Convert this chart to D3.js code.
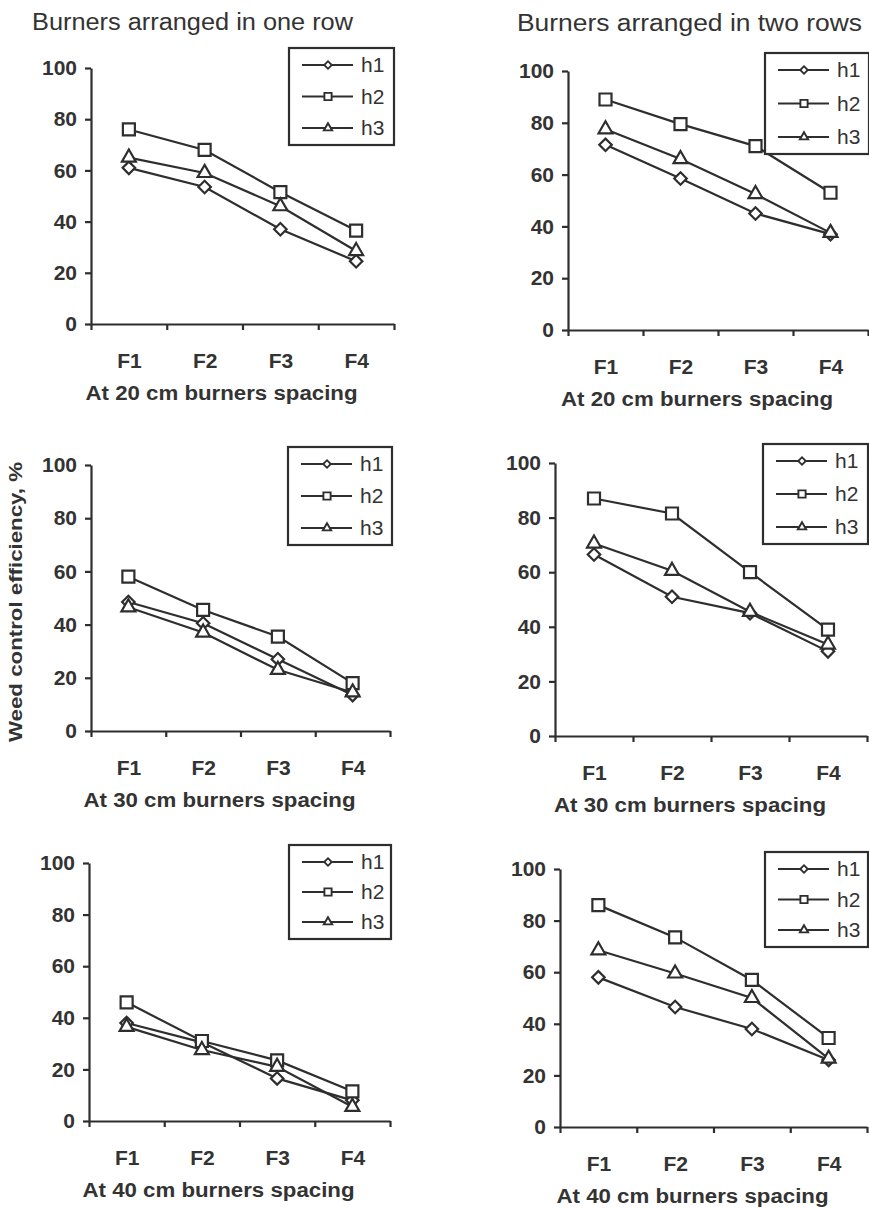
<!DOCTYPE html>
<html>
<head>
<meta charset="utf-8">
<script src="https://cdn.jsdelivr.net/npm/d3@7"></script>
<style>
  body { margin: 0; background: #fff; }
  svg { display: block; }
</style>
</head>
<body>
<script>
// categories and series names
var categories = ["F1", "F2", "F3", "F4"];
var seriesNames = ["h1", "h2", "h3"];
var yTicks = [0, 20, 40, 60, 80, 100];

// values, one row per series (h1, h2, h3)
var oneRow20 = [[61, 53.5, 37, 24.5], [76, 68, 51.5, 36.5], [65, 59, 46, 28.5]];
var twoRows20 = [[71.5, 58.5, 45, 37], [89, 79.5, 71, 53], [77.5, 66, 52.5, 37.5]];
var oneRow30 = [[48.5, 40.5, 27, 13.5], [58, 45.5, 35.5, 18], [46.5, 37, 23, 14.5]];
var twoRows30 = [[66.5, 51, 45, 31], [87, 81.5, 60, 39], [70.5, 60.5, 45.5, 33.5]];
var oneRow40 = [[38, 30.5, 16.5, 8], [46, 31, 23.5, 11.5], [36.5, 27.5, 21, 5.5]];
var twoRows40 = [[58, 46.5, 38, 26], [86, 73.5, 57, 34.5], [68.5, 59.5, 50, 26.5]];

var captions = ["At 20 cm burners spacing", "At 30 cm burners spacing", "At 40 cm burners spacing"];
var titles = ["Burners arranged in one row", "Burners arranged in two rows"];
var yTitle = "Weed control efficiency, %";

var ink = "#2e2e2e";
var textInk = "#333";

// panel layout (pixels)
var panels = [
    {data: oneRow20,  cap: captions[0], x0: 91,  x1: 394, yt: 68,  yb: 324,  lg: [289, 48, 105, 97]},
    {data: twoRows20, cap: captions[0], x0: 568, x1: 868, yt: 71,  yb: 330,  lg: [765, 53, 104, 101]},
    {data: oneRow30,  cap: captions[1], x0: 91,  x1: 390, yt: 465, yb: 731,  lg: [288, 447, 104, 98]},
    {data: twoRows30, cap: captions[1], x0: 555, x1: 867, yt: 463, yb: 736,  lg: [763, 444, 105, 100]},
    {data: oneRow40,  cap: captions[2], x0: 89,  x1: 390, yt: 863, yb: 1121, lg: [289, 845, 102, 94]},
    {data: twoRows40, cap: captions[2], x0: 560, x1: 867, yt: 869, yb: 1127, lg: [765, 852, 103, 95]}
];

var svg = d3.select("body").append("svg")
    .attr("width", 869)
    .attr("height", 1209)
    .style("font-family", "'Liberation Sans', Arial, sans-serif");

// marker shapes: diamond (rotated square), square, triangle
function marker(sel, k, big) {
    var s = big ? 1 : 0.6;
    if (k == 0) {
        sel.attr("d", d3.symbol().type(d3.symbolSquare).size(78 * s * s)())
           .attr("transform", function() { return d3.select(this).attr("transform") + " rotate(45)"; });
    } else if (k == 1) {
        sel.attr("d", d3.symbol().type(d3.symbolSquare).size(144 * s * s)());
    } else {
        sel.attr("d", d3.symbol().type(d3.symbolTriangle).size(84 * s * s)());
    }
}

function drawPanel(p) {
    var x = d3.scaleLinear().domain([0, 4]).range([p.x0, p.x1]);
    var y = d3.scaleLinear().domain([0, 100]).range([p.yb, p.yt]);
    var g = svg.append("g");

    // y axis
    g.append("g")
        .attr("transform", "translate(" + p.x0 + ",0)")
        .call(d3.axisLeft(y).tickValues(yTicks).tickSize(6).tickSizeOuter(0).tickPadding(8));

    // x axis with boundary ticks
    g.append("g")
        .attr("transform", "translate(0," + p.yb + ")")
        .call(d3.axisBottom(x).tickValues([0, 1, 2, 3, 4]).tickSize(6).tickSizeOuter(0).tickFormat(""));

    // category labels at band centres
    var xl = g.append("g")
        .attr("transform", "translate(0," + p.yb + ")")
        .call(d3.axisBottom(x).tickValues([0.5, 1.5, 2.5, 3.5]).tickSize(0).tickPadding(29)
            .tickFormat(function(d, i) { return categories[i]; }));
    xl.select(".domain").remove();

    g.selectAll(".domain, .tick line").attr("stroke", ink).attr("stroke-width", 2.2);
    g.selectAll(".tick text")
        .attr("fill", textInk)
        .attr("font-family", null)
        .attr("font-size", null)
        .style("font-size", "21px")
        .style("font-weight", "bold");

    // caption
    g.append("text")
        .attr("x", (p.x0 + p.x1) / 2 - 21)
        .attr("y", p.yb + 76)
        .attr("text-anchor", "middle")
        .attr("fill", textInk)
        .attr("textLength", 272)
        .attr("lengthAdjust", "spacingAndGlyphs")
        .style("font-size", "20px")
        .style("font-weight", "bold")
        .text(p.cap);

    // series
    var line = d3.line()
        .x(function(d, i) { return x(i + 0.5); })
        .y(function(d) { return y(d); });

    p.data.forEach(function(vals) {
        g.append("path")
            .attr("d", line(vals))
            .attr("fill", "none")
            .attr("stroke", ink)
            .attr("stroke-width", 2.2);
    });
    p.data.forEach(function(vals, k) {
        g.selectAll(".m" + k)
            .data(vals)
            .enter().append("path")
            .attr("class", "m" + k)
            .attr("transform", function(d, i) { return "translate(" + x(i + 0.5) + "," + y(d) + ")"; })
            .attr("fill", "#fff")
            .attr("stroke", ink)
            .attr("stroke-width", 2.2)
            .call(marker, k, true);
    });

    // legend
    var lg = g.append("g").attr("transform", "translate(" + p.lg[0] + "," + p.lg[1] + ")");
    lg.append("rect")
        .attr("width", p.lg[2])
        .attr("height", p.lg[3])
        .attr("fill", "#fff")
        .attr("stroke", ink)
        .attr("stroke-width", 2.2);
    var step = (p.lg[3] - 34) / 2;
    seriesNames.forEach(function(name, k) {
        var ry = 17 + k * step;
        lg.append("line")
            .attr("x1", 13).attr("x2", 64)
            .attr("y1", ry).attr("y2", ry)
            .attr("stroke", ink).attr("stroke-width", 2.2);
        lg.append("path")
            .attr("transform", "translate(39," + ry + ")")
            .attr("fill", "#fff")
            .attr("stroke", ink)
            .attr("stroke-width", 1.9)
            .call(marker, k, false);
        lg.append("text")
            .attr("x", 72)
            .attr("y", ry + 7)
            .attr("fill", textInk)
            .style("font-size", "21px")
            .text(name);
    });
}

panels.forEach(drawPanel);

// column titles
svg.append("text")
    .attr("x", 32).attr("y", 30)
    .attr("fill", textInk)
    .attr("textLength", 321)
    .attr("lengthAdjust", "spacingAndGlyphs")
    .style("font-size", "23px")
    .text(titles[0]);
svg.append("text")
    .attr("x", 517).attr("y", 31)
    .attr("fill", textInk)
    .attr("textLength", 345)
    .attr("lengthAdjust", "spacingAndGlyphs")
    .style("font-size", "23px")
    .text(titles[1]);

// shared y-axis title
svg.append("text")
    .attr("transform", "translate(22,602) rotate(-90)")
    .attr("text-anchor", "middle")
    .attr("fill", textInk)
    .attr("textLength", 280)
    .attr("lengthAdjust", "spacingAndGlyphs")
    .style("font-size", "19px")
    .style("font-weight", "bold")
    .text(yTitle);
</script>
</body>
</html>
